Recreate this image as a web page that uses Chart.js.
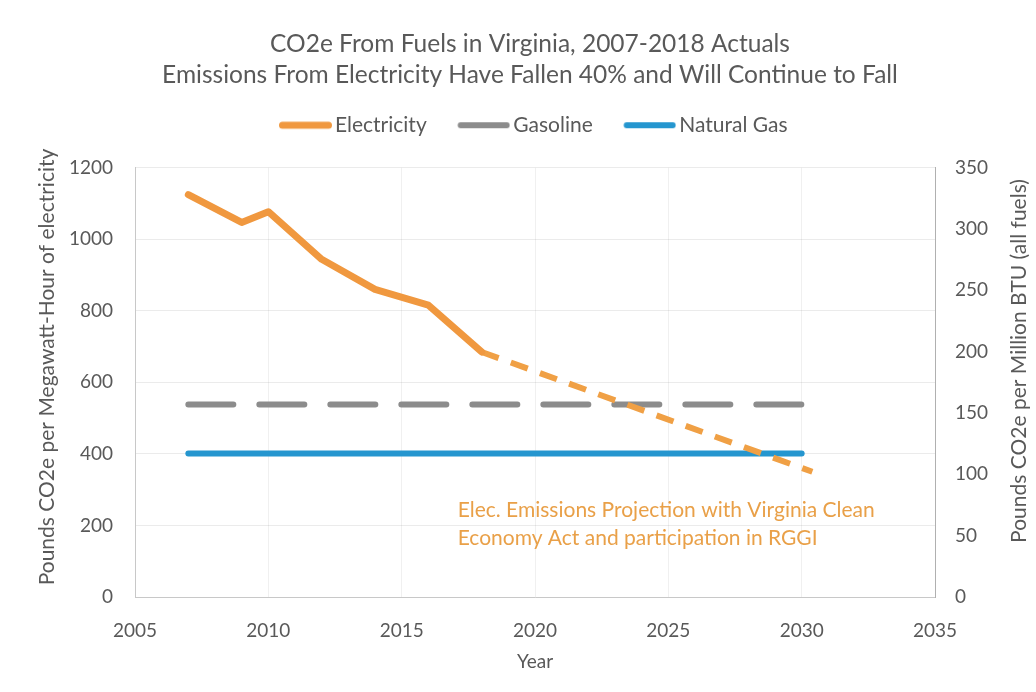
<!DOCTYPE html>
<html>
<head>
<meta charset="utf-8">
<script src="https://cdn.jsdelivr.net/npm/chart.js@4/dist/chart.umd.min.js"></script>
<style>
    html, body { margin: 0; padding: 0; background: #ffffff; }
    #wrap { width: 1036px; height: 692px; position: relative; }
</style>
</head>
<body>
<div id="wrap"><canvas id="co2Chart"></canvas></div>
<script>
// Electricity actuals (lb CO2e per MWh)
const elecYears = [2007, 2009, 2010, 2012, 2014, 2016, 2018];
const elecValues = [1125, 1047, 1077, 944, 860, 816, 685];

// Electricity projection (VCEA + RGGI)
const projYears = [2018, 2030.4];
const projValues = [685, 350];

// Fuels (lb CO2e per million BTU, right axis)
const fuelYears = [2007, 2030];
const gasolineValues = [157, 157];
const naturalGasValues = [117, 117];

// Tick labels
const yearTicks = [2005, 2010, 2015, 2020, 2025, 2030, 2035];
const leftTicks = [0, 200, 400, 600, 800, 1000, 1200];
const rightTicks = [0, 50, 100, 150, 200, 250, 300, 350];

const textGray = '#595959';
const fontFamily = 'Lato, "Open Sans", sans-serif';

const toPoints = (xs, ys) => xs.map((x, i) => ({ x: x, y: ys[i] }));
const fixedTicks = values => scale => {
    scale.ticks = values.map(v => ({ value: v }));
};

// Legend swatch: a short solid line that sits close to its label
function legendSwatch(color, lineWidth) {
    const c = document.createElement('canvas');
    c.width = 67;
    c.height = 12;
    const g = c.getContext('2d');
    g.strokeStyle = color;
    g.lineWidth = lineWidth;
    g.lineCap = 'round';
    g.beginPath();
    g.moveTo(17.5, 6);
    g.lineTo(63.5, 6);
    g.stroke();
    return c;
}

// Leave some room between the legend and the plot
const legendGap = {
    id: 'legendGap',
    beforeInit(chart) {
        const origFit = chart.legend.fit;
        chart.legend.fit = function fit() {
            origFit.bind(chart.legend)();
            this.height += 22;
        };
    }
};

// Axis titles (right one reads bottom-to-top like the left) and the projection note
const textPlugin = {
    id: 'extraText',
    afterDatasetsDraw(chart) {
        const { ctx, scales } = chart;
        ctx.save();
        ctx.font = '21px ' + fontFamily;
        ctx.fillStyle = textGray;
        ctx.textAlign = 'center';
        ctx.textBaseline = 'middle';

        ctx.save();
        ctx.translate(47, 367);
        ctx.rotate(-Math.PI / 2);
        ctx.fillText('Pounds CO2e per Megawatt-Hour of electricity', 0, 0);
        ctx.restore();

        ctx.save();
        ctx.translate(1019, 361);
        ctx.rotate(-Math.PI / 2);
        ctx.fillText('Pounds CO2e per Million BTU (all fuels)', 0, 0);
        ctx.restore();

        const x = scales.x.getPixelForValue(2017.1);
        ctx.fillStyle = '#e9a048';
        ctx.textAlign = 'left';
        ctx.fillText('Elec. Emissions Projection with Virginia Clean', x, scales.y.getPixelForValue(243));
        ctx.fillText('Economy Act and participation in RGGI', x, scales.y.getPixelForValue(165));
        ctx.restore();
    }
};

new Chart(document.getElementById('co2Chart'), {
    type: 'line',
    data: {
        datasets: [
            {
                label: 'Electricity',
                data: toPoints(elecYears, elecValues),
                borderColor: '#f0983f',
                backgroundColor: '#f0983f',
                borderWidth: 7,
                borderCapStyle: 'round',
                borderJoinStyle: 'round',
                pointRadius: 0,
                yAxisID: 'y'
            },
            {
                label: 'Projection',
                data: toPoints(projYears, projValues),
                borderColor: '#f0a045',
                borderWidth: 6,
                borderDash: [18, 13],
                borderCapStyle: 'butt',
                pointRadius: 0,
                yAxisID: 'y'
            },
            {
                label: 'Gasoline',
                data: toPoints(fuelYears, gasolineValues),
                borderColor: '#8c8c8c',
                backgroundColor: '#8c8c8c',
                borderWidth: 6,
                borderDash: [45, 26],
                borderCapStyle: 'round',
                pointRadius: 0,
                yAxisID: 'y2'
            },
            {
                label: 'Natural Gas',
                data: toPoints(fuelYears, naturalGasValues),
                borderColor: '#2596cf',
                backgroundColor: '#2596cf',
                borderWidth: 6,
                borderCapStyle: 'round',
                pointRadius: 0,
                yAxisID: 'y2'
            }
        ]
    },
    options: {
        responsive: true,
        maintainAspectRatio: false,
        animation: false,
        layout: {
            padding: { top: 28, left: 24, right: 0, bottom: 0 }
        },
        plugins: {
            title: {
                display: true,
                text: ['CO2e From Fuels in Virginia, 2007-2018 Actuals',
                       'Emissions From Electricity Have Fallen 40% and Will Continue to Fall'],
                color: textGray,
                font: { family: fontFamily, size: 24.5, weight: 'normal', lineHeight: 1.28 },
                padding: { top: 0, bottom: 0 }
            },
            legend: {
                position: 'top',
                labels: {
                    color: textGray,
                    font: { family: fontFamily, size: 21 },
                    usePointStyle: true,
                    pointStyleWidth: 52,
                    padding: 24,
                    filter: item => item.text !== 'Projection',
                    generateLabels: chart => {
                        const items = Chart.defaults.plugins.legend.labels.generateLabels(chart);
                        items.forEach(item => {
                            item.pointStyle = legendSwatch(item.strokeStyle, item.lineWidth);
                        });
                        return items;
                    }
                }
            },
            tooltip: { enabled: false }
        },
        scales: {
            x: {
                type: 'linear',
                min: 2005,
                max: 2035,
                afterBuildTicks: fixedTicks(yearTicks),
                afterFit: scale => { scale.height = 95; },
                ticks: {
                    color: textGray,
                    font: { family: fontFamily, size: 19 },
                    padding: 22,
                    callback: v => String(v)
                },
                grid: { color: 'rgba(0,0,0,0.06)', drawTicks: false },
                border: { color: '#c8c8c8' },
                title: {
                    display: true,
                    text: 'Year',
                    color: textGray,
                    font: { family: fontFamily, size: 19 },
                    padding: { top: 0, bottom: 19 }
                }
            },
            y: {
                position: 'left',
                min: 0,
                max: 1200,
                afterBuildTicks: fixedTicks(leftTicks),
                afterFit: scale => { scale.width = 111; },
                ticks: {
                    color: textGray,
                    font: { family: fontFamily, size: 19 },
                    padding: 22,
                    callback: v => String(v)
                },
                grid: { color: 'rgba(0,0,0,0.08)', drawTicks: false, tickBorderDash: [] },
                border: { color: '#c8c8c8', dash: [] }
            },
            y2: {
                position: 'right',
                min: 0,
                max: 350,
                afterBuildTicks: fixedTicks(rightTicks),
                afterFit: scale => { scale.width = 101; },
                ticks: {
                    color: textGray,
                    font: { family: fontFamily, size: 19 },
                    padding: 20,
                    callback: v => String(v)
                },
                grid: { drawOnChartArea: false, drawTicks: false },
                border: { color: '#b0b0b0' }
            }
        }
    },
    plugins: [legendGap, textPlugin]
});
</script>
</body>
</html>
